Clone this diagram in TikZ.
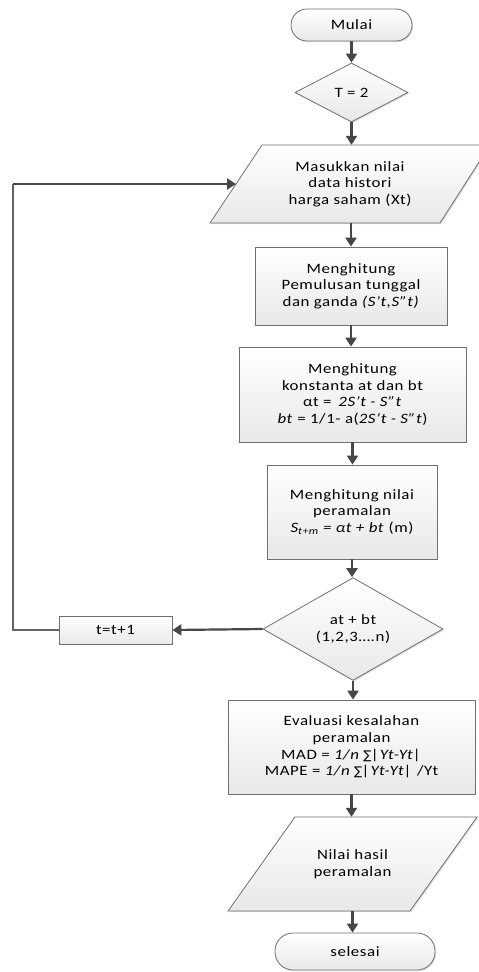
\documentclass[tikz,border=0pt]{standalone}
\usepackage{fontspec}
\setmainfont{Carlito}[FakeStretch=1.18,LetterSpace=4]
\newfontfamily\symfont{DejaVu Sans}
\usetikzlibrary{shapes.geometric,arrows.meta,shadows}
\definecolor{edge}{HTML}{707070}
\definecolor{arr}{HTML}{474747}
\tikzset{
  shapefill/.style={top color=white, bottom color=black!9, draw=edge, line width=0.8pt,
     drop shadow={shadow xshift=1.2pt, shadow yshift=-1.2pt, opacity=0.25}},
  procbox/.style={shapefill, rectangle, inner sep=0pt, align=center},
  term/.style={shapefill, rectangle, rounded corners=16pt, inner sep=0pt, align=center},
  decis/.style={shapefill, diamond, inner sep=0pt, align=center},
  txt/.style={inner sep=0pt, align=center},
  flow/.style={draw=arr, line width=2.2pt, -{Triangle[width=11pt,length=9pt]}},
  loopline/.style={draw=arr!85, line width=2.4pt},
}
\newcommand{\sg}{{\symfont\fontsize{12}{12}\selectfont ∑}}
\begin{document}
\begin{tikzpicture}[x=1pt,y=-1pt,font=\fontsize{14.3}{16.6}\selectfont]
\useasboundingbox (0,0) rectangle (479,972);
\fill[white] (0,0) rectangle (479,972);

% start
\node[term, minimum width=121pt, minimum height=32pt] (mulai) at (351.5,25) {Mulai};
% T = 2
\node[decis, minimum width=113pt, minimum height=59pt] (t2) at (351.5,92.5) {T = 2};

% input parallelogram
\coordinate (p1tl) at (262,145);
\coordinate (p1tr) at (490,145);
\coordinate (p1br) at (440,223);
\coordinate (p1bl) at (210,223);
\path[shapefill] (p1tl) -- (p1tr) -- (p1br) -- (p1bl) -- cycle;
\node[txt, minimum width=200pt, minimum height=78pt] (in1) at (350,184) {Masukkan nilai\\data histori\\harga saham (Xt)};
\coordinate (in1left) at (236,184);

% boxes
\node[procbox, minimum width=192pt, minimum height=78pt] (pem) at (351,286)
  {Menghitung\\Pemulusan tunggal\\dan ganda \textit{(S’t,S”t)}};
\node[procbox, minimum width=227pt, minimum height=95pt] (kons) at (352.5,394.5)
  {Menghitung\\konstanta at dan bt\\αt = \,\textit{2S’t - S”t}\\\textit{bt} = 1/1- a(\textit{2S’t - S”t})};
\node[procbox, minimum width=170pt, minimum height=94pt] (ram) at (352,512)
  {Menghitung nilai\\peramalan\\\textit{S\textsubscript{t+m} = αt + bt} (m)};

% decision
\node[decis, minimum width=180pt, minimum height=92pt] (d2) at (353,629)
  {at + bt\\(1,2,3….n)};
\node[procbox, minimum width=113pt, minimum height=28pt] (tt) at (115.5,630) {t=t+1};

% evaluation
\node[procbox, minimum width=247pt, minimum height=94pt] (eval) at (351.5,747)
  {Evaluasi kesalahan\\peramalan\\MAD = \textit{1/n \sg|Yt-Yt|}\\MAPE = \textit{1/n \sg|Yt-Yt|} /Yt};

% output parallelogram
\coordinate (p2tl) at (295,817);
\coordinate (p2tr) at (477,817);
\coordinate (p2br) at (410,911);
\coordinate (p2bl) at (228,911);
\path[shapefill] (p2tl) -- (p2tr) -- (p2br) -- (p2bl) -- cycle;
\node[txt, minimum width=150pt, minimum height=94pt] (out) at (352.5,864) {Nilai hasil\\peramalan};

% end
\node[term, minimum width=160pt, minimum height=37pt, rounded corners=18pt] (selesai) at (355,951.5) {selesai};

% connectors
\draw[flow] (mulai.south) -- (t2.north);
\draw[flow] (t2.south) -- (t2.south |- in1.north);
\draw[flow] (pem.north |- in1.south) -- (pem.north);
\draw[flow] (pem.south) -- (pem.south |- kons.north);
\draw[flow] (kons.south) -- (kons.south |- ram.north);
\draw[flow] (ram.south) -- (ram.south |- d2.north);
\draw[flow] (d2.west) -- (tt.east);
\draw[loopline] (tt.west) -- (13,630) coordinate (lc1) -- (lc1 |- in1left);
\draw[flow] (13,184) -- (in1left);
\draw[flow] (d2.south) -- (d2.south |- eval.north);
\draw[flow] (eval.south) -- (eval.south |- out.north);
\draw[flow] (out.south) -- (out.south |- selesai.north);
\end{tikzpicture}
\end{document}
